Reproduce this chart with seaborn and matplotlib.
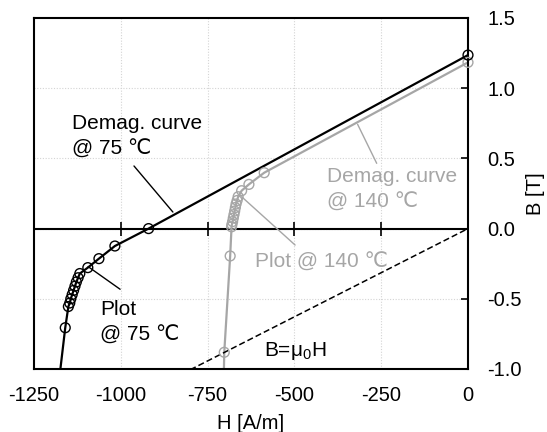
import numpy as np
import pandas as pd
import matplotlib
matplotlib.use("Agg")
import matplotlib.pyplot as plt
import seaborn as sns

# Measured points, demagnetisation at 75 degC
H_75 = [0, -920, -1017, -1063, -1095, -1118, -1123, -1128, -1132, -1136,
        -1140, -1144, -1147, -1151, -1160]
B_75 = [1.236, 0.0, -0.124, -0.214, -0.278, -0.32, -0.35, -0.38, -0.41, -0.44,
        -0.47, -0.50, -0.53, -0.555, -0.706]
# end of the 75 degC curve at the bottom of the plot
H_75_end = [-1174]
B_75_end = [-1.0]

# Measured points, demagnetisation at 140 degC
H_140 = [0, -587, -631, -652, -662, -665, -668, -670, -672, -674, -676,
         -678, -680, -681, -685, -702]
B_140 = [1.184, 0.398, 0.315, 0.27, 0.227, 0.20, 0.175, 0.15, 0.125, 0.10,
         0.075, 0.05, 0.03, 0.013, -0.195, -0.881]
H_140_end = [-703]
B_140_end = [-1.0]

# Air line B = mu0 * H (H in kA/m)
mu0 = 4e-7 * np.pi * 1e3
H_air = [-800, 0]

x_ticks = [-1250, -1000, -750, -500, -250, 0]
y_ticks = [-1.0, -0.5, 0.0, 0.5, 1.0, 1.5]

GRAY = "#a6a6a6"
FONT = ["Liberation Sans", "DejaVu Sans"]
TICK_FS = 14.5
TEXT_FS = 15

sns.set_theme(style="white")
plt.rcParams["font.family"] = FONT
plt.rcParams["axes.unicode_minus"] = False
plt.rcParams["mathtext.fontset"] = "custom"
plt.rcParams["mathtext.rm"] = "Liberation Sans"
plt.rcParams["mathtext.it"] = "Liberation Sans"

fig = plt.figure(figsize=(5.47, 4.32), dpi=100)
ax = fig.add_axes([34 / 547, 1 - 369 / 432, 434 / 547, 351 / 432])

# grid
for xv in x_ticks[1:-1]:
    ax.axvline(xv, color="#d4d4d4", lw=0.8, ls=(0, (1, 1.5)), zorder=0)
for yv in y_ticks[1:-1]:
    ax.axhline(yv, color="#d4d4d4", lw=0.8, ls=(0, (1, 1.5)), zorder=0)
ax.axhline(0, color="black", lw=1.5, zorder=1)

# curves
df75 = pd.DataFrame({"H": H_75 + H_75_end, "B": B_75 + B_75_end})
df140 = pd.DataFrame({"H": H_140 + H_140_end, "B": B_140 + B_140_end})
dfair = pd.DataFrame({"H": H_air, "B": [mu0 * h for h in H_air]})

sns.lineplot(data=df140, x="H", y="B", sort=False, color=GRAY, lw=1.6, ax=ax, zorder=2)
sns.lineplot(data=df75, x="H", y="B", sort=False, color="black", lw=1.6, ax=ax, zorder=3)
sns.lineplot(data=dfair, x="H", y="B", sort=False, color="black", lw=1.1,
             ls=(0, (4, 2)), ax=ax, zorder=2)

sns.scatterplot(x=H_140, y=B_140, marker="o", s=50, facecolors="none",
                edgecolors=GRAY, linewidths=1.0, ax=ax, zorder=4, clip_on=False)
sns.scatterplot(x=H_75, y=B_75, marker="o", s=50, facecolors="none",
                edgecolors="black", linewidths=1.0, ax=ax, zorder=5, clip_on=False)

ax.set_xlim(-1250, 0)
ax.set_ylim(-1.0, 1.5)

for s in ax.spines.values():
    s.set_visible(True)
    s.set_color("black")
    s.set_linewidth(1.5)

ax.set_xticks(x_ticks)
ax.set_xticklabels([str(v) for v in x_ticks])
ax.tick_params(axis="x", length=0, pad=12.5, labelsize=TICK_FS, colors="black")

ax.yaxis.tick_right()
ax.yaxis.set_label_position("right")
ax.set_yticks(y_ticks)
ax.set_yticklabels([f"{v:.1f}" for v in y_ticks])
ax.tick_params(axis="y", direction="in", length=5, width=1.2, pad=14,
               labelsize=TICK_FS, colors="black", right=True, left=False)

# tick marks on the B = 0 line
sec = ax.secondary_xaxis(0.4)
sec.set_xticks(x_ticks[1:-1])
sec.tick_params(axis="x", direction="inout", length=10, width=1.2,
                labelbottom=False, labeltop=False, color="black")
sec.spines["bottom"].set_visible(False)
sec.spines["top"].set_visible(False)

ax.set_xlabel("H [A/m]", fontsize=TICK_FS, labelpad=6, color="black")
ax.set_ylabel("B [T]", fontsize=TICK_FS, labelpad=3, color="black")

# labels and their leader lines
txt = dict(fontsize=TEXT_FS, linespacing=1.45, ha="left", va="top")
ax.text(-1140, 0.816, "Demag. curve\n@ 75 ℃", color="black", **txt)
ax.text(-407, 0.442, "Demag. curve\n@ 140 ℃", color=GRAY, **txt)
ax.text(-613, -0.170, "Plot @ 140 ℃", color=GRAY, **txt)
ax.text(-1060, -0.505, "Plot\n@ 75 ℃", color="black", **txt)
ax.text(-588, -0.908, r"B=μ$_0$H", fontsize=TEXT_FS, ha="left", va="baseline",
        color="black")

leader = dict(arrowstyle="-", lw=1.0, shrinkA=0, shrinkB=0)
ax.annotate("", xy=(-850, 0.118), xytext=(-962, 0.446),
            arrowprops=dict(color="black", **leader))
ax.annotate("", xy=(-318, 0.743), xytext=(-263, 0.465),
            arrowprops=dict(color=GRAY, **leader))
ax.annotate("", xy=(-652, 0.227), xytext=(-498, -0.117),
            arrowprops=dict(color=GRAY, **leader))
ax.annotate("", xy=(-1094, -0.271), xytext=(-1002, -0.432),
            arrowprops=dict(color="black", **leader))

fig.savefig("out.png", dpi=100)
